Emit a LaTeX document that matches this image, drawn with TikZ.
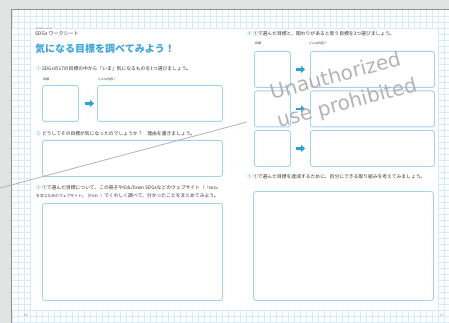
\documentclass[tikz,border=0pt]{standalone}
\usepackage{fontspec}
\setmainfont{Noto Sans CJK JP}
\newfontfamily\wmfont{DejaVu Sans}
\usetikzlibrary{arrows.meta}
\definecolor{bg}{HTML}{E0E4E3}
\definecolor{edge}{HTML}{8E9190}
\definecolor{gridc}{HTML}{D5EBF7}
\definecolor{boxc}{HTML}{A3D2EB}
\definecolor{ttl}{HTML}{3FA6D9}
\definecolor{arr}{HTML}{2E9FD9}
\definecolor{txt}{HTML}{333333}
\definecolor{wmc}{HTML}{B3B3B3}
\tikzset{
  q/.style={anchor=base west, inner sep=0pt, text=txt, font=\fontsize{4.8}{5.5}\selectfont},
  lbl/.style={anchor=base west, inner sep=0pt, text=txt, font=\fontsize{3}{3.5}\selectfont},
  box/.style={draw=boxc, line width=0.9pt, rounded corners=2.5pt, fill=white, anchor=north west, inner sep=0pt},
  go/.style={draw=arr, line width=2.4pt, -{Triangle[length=4pt,width=7pt]}, shorten <=6pt, shorten >=3pt},
  gl/.style={gridc, line width=0.45pt},
  wm/.style={anchor=base west, inner sep=0pt, rotate=15, text=wmc, font=\wmfont\fontsize{20}{20}\selectfont},
}
\begin{document}
\begin{tikzpicture}[x=1pt,y=-1pt]
\useasboundingbox (0,0) rectangle (449,323);
\fill[bg] (0,0) rectangle (449,323);
\fill[white] (11.5,9.5) rectangle (449,323);
% grid bands
\foreach \x in {12,18,...,444} \draw[gl] (\x,10) -- (\x,28);
\foreach \y in {16,22,28} \draw[gl] (12,\y) -- (449,\y);
\foreach \y in {34,40,...,310} \draw[gl] (12,\y) -- (30,\y);
\foreach \x in {18,24,30} \draw[gl] (\x,28) -- (\x,310);
\foreach \y in {310,316,322} \draw[gl] (12,\y) -- (449,\y);
\foreach \x in {12,18,...,444} \draw[gl] (\x,310) -- (\x,323);
\foreach \y in {34,40,...,310} \draw[gl] (438,\y) -- (449,\y);
\foreach \x in {438,444} \draw[gl] (\x,28) -- (\x,310);
\draw[edge, line width=1pt] (11.5,323) -- (11.5,9.5) -- (449,9.5);

% left page
\node[lbl, font=\fontsize{2}{2.5}\selectfont] (ruby) at (36,30) {エスディージーズ};
\node[q, font=\fontsize{5}{6}\selectfont] (sheet) at (35,35.5) {SDGs ワークシート};
\node[q, text=ttl, font=\bfseries\fontsize{10}{12}\selectfont] (title) at (35,52.5) {気になる目標を調べてみよう！};

\node[q] (q1) at (36,71) {\textcolor{ttl}{①} SDGsの17の目標の中から「いま」気になるものを1つ選びましょう。};
\node[lbl] (l1a) at (43,81) {目標};
\node[lbl] (l1b) at (98,81) {どんな内容？};
\node[box, minimum width=36pt, minimum height=36pt] (a1) at (42,85) {};
\node[box, minimum width=125pt, minimum height=36pt] (b1) at (97,85) {};
\draw[go] (a1) -- (b1);

\node[q] (q2) at (36,136) {\textcolor{ttl}{②} どうしてその目標が気になったのでしょうか？　理由を書きましょう。};
\node[box, minimum width=180pt, minimum height=36pt] (b2) at (42,140) {};

\node[q] (q3a) at (36,189) {\textcolor{ttl}{③} ①で選んだ目標について、この冊子やEduTown SDGsなどのウェブサイト（{\fontsize{3.8}{4}\selectfont「SDGs}};
\node[q] (q3b) at (36,197) {{\fontsize{3.8}{4}\selectfont を学ぶためのウェブサイト」（P.64））}でくわしく調べて、分かったことをまとめてみよう。};
\node[box, minimum width=180pt, minimum height=97pt] (b3) at (42,203) {};

\node[lbl, text=gray] (p56) at (24,316) {56};

% right page
\node[q] (q4) at (247,36) {\textcolor{ttl}{④} ①で選んだ目標と、関わりがあると思う目標を3つ選びましょう。};
\node[lbl] (l4a) at (255,44.5) {目標};
\node[lbl] (l4b) at (309,44.5) {どんな内容？};
\node[box, minimum width=36pt, minimum height=36pt] (a4) at (254,51) {};
\node[box, minimum width=124pt, minimum height=36pt] (b4) at (310,51) {};
\node[box, minimum width=36pt, minimum height=36pt] (a5) at (254,90.5) {};
\node[box, minimum width=124pt, minimum height=36pt] (b5) at (310,90.5) {};
\node[box, minimum width=36pt, minimum height=36pt] (a6) at (254,130) {};
\node[box, minimum width=124pt, minimum height=36pt] (b6) at (310,130) {};
\draw[go, shorten <=5pt, shorten >=5pt] (a4) -- (b4);
\draw[go, shorten <=5pt, shorten >=5pt] (a5) -- (b5);
\draw[go, shorten <=5pt, shorten >=5pt] (a6) -- (b6);

\node[q] (q5) at (247,178.5) {\textcolor{ttl}{⑤} ①で選んだ目標を達成するために、自分にできる取り組みを考えてみましょう。};
\node[box, minimum width=180pt, minimum height=109pt] (b7) at (253,191) {};

\node[lbl, text=gray] (p57) at (440,316) {57};

% watermark
\coordinate (w0) at (0,188);
\coordinate (w1) at (247,122);
\draw[wmc, line width=0.8pt] (w0) -- (w1);
\node[wm] (wm1) at (272,100) {Unauthorized};
\node[wm] (wm2) at (279,128) {use prohibited};
\end{tikzpicture}
\end{document}
